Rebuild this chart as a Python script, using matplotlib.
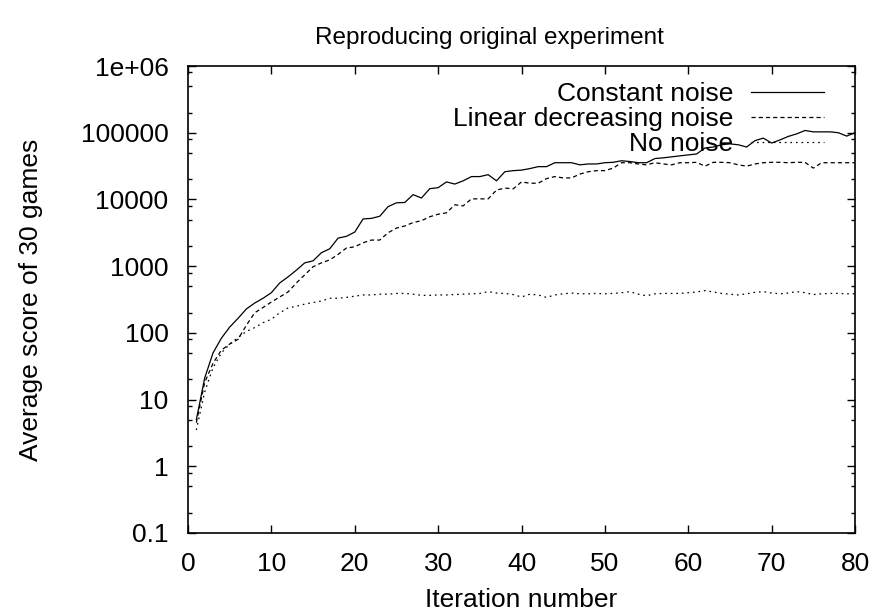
import numpy as np
import matplotlib
matplotlib.use("Agg")
import matplotlib.pyplot as plt

plt.rcParams['font.family'] = ['Liberation Sans', 'DejaVu Sans']
plt.rcParams['lines.scale_dashes'] = False

iterations = list(range(1, 81))

constant_noise = [5, 21, 50, 83, 122, 165, 228, 280, 330, 400,
                  560, 690, 870, 1120, 1200, 1590, 1820, 2630, 2800, 3240,
                  5100, 5200, 5600, 7800, 8900, 9000, 11800, 10500, 14500, 15000,
                  18300, 17000, 19000, 22000, 22000, 23500, 19000, 26000, 27000, 27500,
                  29000, 31000, 31000, 35500, 35500, 35500, 33000, 34000, 34000, 35500,
                  36000, 38000, 37000, 35500, 35500, 41000, 42000, 43500, 45000, 46500,
                  48000, 59000, 61000, 66000, 68000, 66000, 61000, 76000, 83000, 70000,
                  78000, 88000, 96000, 108000, 103000, 103000, 103000, 100000, 89000, 100000]

linear_noise = [4.5, 18, 35, 55, 68, 80, 130, 200, 240, 290,
                345, 410, 560, 740, 980, 1120, 1240, 1500, 1870, 1950,
                2240, 2460, 2460, 3170, 3720, 4000, 4500, 4800, 5500, 6000,
                6300, 8300, 8000, 10200, 10200, 10200, 13800, 14800, 14400, 18300,
                17500, 17500, 20500, 22000, 21000, 21000, 24000, 26000, 27000, 27000,
                29500, 35500, 35500, 34000, 33000, 35500, 34000, 33000, 35500, 35500,
                36000, 31500, 36000, 36000, 35500, 33000, 31500, 34000, 35500, 36000,
                36000, 35500, 36000, 36000, 29500, 35500, 35500, 35500, 35500, 35500]

no_noise = [3.5, 13, 30, 50, 68, 85, 105, 120, 142, 160,
            200, 236, 250, 270, 285, 300, 330, 330, 340, 355,
            370, 370, 380, 380, 390, 390, 380, 365, 365, 370,
            370, 375, 380, 385, 390, 415, 395, 390, 375, 345,
            380, 370, 340, 370, 385, 395, 385, 385, 390, 385,
            390, 400, 415, 380, 360, 385, 390, 390, 390, 400,
            410, 430, 410, 390, 380, 370, 385, 405, 415, 395,
            385, 395, 415, 400, 375, 385, 390, 390, 385, 385]

ytick_values = [0.1, 1, 10, 100, 1000, 10000, 100000, 1000000]
ytick_labels = ['0.1', '1', '10', '100', '1000', '10000', '100000', '1e+06']
xtick_values = [0, 10, 20, 30, 40, 50, 60, 70, 80]

fs = 19

fig = plt.figure(figsize=(8.75, 6.15), dpi=100)
ax = fig.add_axes([188 / 875, 1 - 533 / 615, (855 - 188) / 875, (533 - 66) / 615])

ax.plot(iterations, constant_noise, color='black', lw=0.9, label='Constant noise')
ax.plot(iterations, linear_noise, color='black', lw=0.9, dashes=(3.0, 2.2),
        label='Linear decreasing noise')
ax.plot(iterations, no_noise, color='black', lw=0.9, dashes=(1.2, 2.8),
        label='No noise')

ax.set_yscale('log')
ax.set_xlim(0, 80)
ax.set_ylim(0.1, 1e6)
ax.set_xticks(xtick_values)
ax.set_xticklabels([str(v) for v in xtick_values])
ax.set_yticks(ytick_values)
ax.set_yticklabels(ytick_labels)
minor = [m * 10.0 ** e for e in range(-1, 6) for m in (2, 5, 8)]
ax.yaxis.set_minor_locator(matplotlib.ticker.FixedLocator(minor))
ax.yaxis.set_minor_formatter(matplotlib.ticker.NullFormatter())
ax.tick_params(axis='both', which='major', direction='in', length=6, width=1,
               top=True, right=True, labelsize=fs)
ax.tick_params(axis='y', which='major', pad=14)
ax.tick_params(axis='x', which='major', pad=14)
ax.tick_params(axis='y', which='minor', direction='in', length=3, width=1,
               left=True, right=True)
for s in ax.spines.values():
    s.set_linewidth(1.2)

ax.set_xlabel('Iteration number', fontsize=fs, labelpad=8)
ax.set_ylabel('Average score of 30 games', fontsize=fs, labelpad=27)
fig.text(489 / 875, 1 - 38 / 615, 'Reproducing original experiment',
         fontsize=17.5, ha='center', va='center')

ax.legend(loc='upper right', frameon=False, markerfirst=False, fontsize=fs,
          handlelength=2.8, handletextpad=0.65, labelspacing=0.05,
          borderaxespad=0.2, bbox_to_anchor=(0.978, 1.0))

fig.savefig('out.png', dpi=100)
